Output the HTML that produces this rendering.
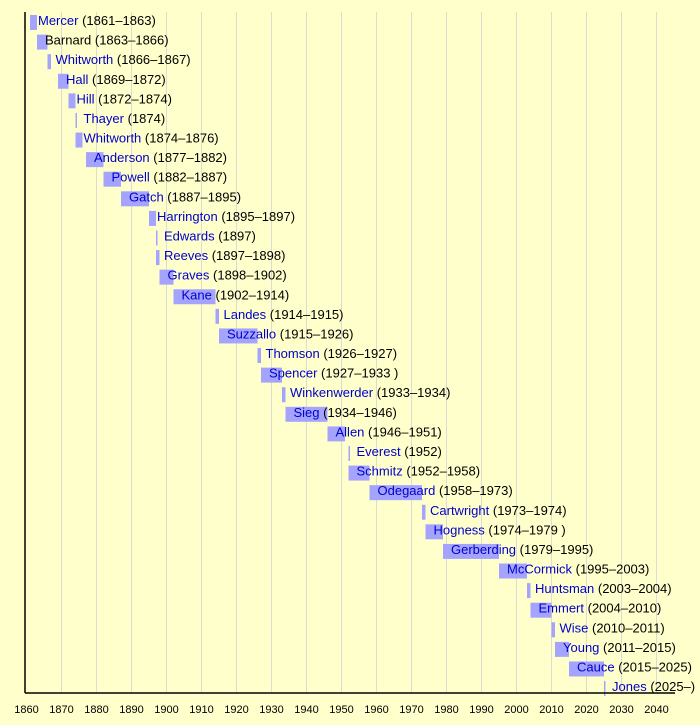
<!DOCTYPE html>
<html><head><meta charset="utf-8"><style>
html,body{margin:0;padding:0;background:#ffffcc;}
svg{display:block;font-family:"Liberation Sans",sans-serif;}
</style></head><body>
<svg id="s" width="700" height="725" xmlns="http://www.w3.org/2000/svg">
<rect width="700" height="725" fill="#ffffcc"/>
<g id="grid" stroke="#dcdcd4" stroke-width="1"></g>
<g id="bars" fill="#a4a4ff"></g>
<g id="txt" font-size="13"></g>
<line x1="25" y1="12" x2="25" y2="693" stroke="#000" stroke-width="1.5"/>
<line x1="25" y1="693" x2="675" y2="693" stroke="#000" stroke-width="1.5"/>
<g id="ticks" font-size="11" fill="#000" text-anchor="middle"></g>
</svg>
<script>
var d=[["Mercer",1861,1863,"(1861–1863)"],["Barnard",1863,1866,"(1863–1866)",1],["Whitworth",1866,1867,"(1866–1867)"],["Hall",1869,1872,"(1869–1872)"],["Hill",1872,1874,"(1872–1874)"],["Thayer",1874,1874,"(1874)"],["Whitworth",1874,1876,"(1874–1876)"],["Anderson",1877,1882,"(1877–1882)"],["Powell",1882,1887,"(1882–1887)"],["Gatch",1887,1895,"(1887–1895)"],["Harrington",1895,1897,"(1895–1897)"],["Edwards",1897,1897,"(1897)"],["Reeves",1897,1898,"(1897–1898)"],["Graves",1898,1902,"(1898–1902)"],["Kane",1902,1914,"(1902–1914)"],["Landes",1914,1915,"(1914–1915)"],["Suzzallo",1915,1926,"(1915–1926)"],["Thomson",1926,1927,"(1926–1927)"],["Spencer",1927,1933,"(1927–1933 )"],["Winkenwerder",1933,1934,"(1933–1934)"],["Sieg",1934,1946,"(1934–1946)"],["Allen",1946,1951,"(1946–1951)"],["Everest",1952,1952,"(1952)"],["Schmitz",1952,1958,"(1952–1958)"],["Odegaard",1958,1973,"(1958–1973)"],["Cartwright",1973,1974,"(1973–1974)"],["Hogness",1974,1979,"(1974–1979 )"],["Gerberding",1979,1995,"(1979–1995)"],["McCormick",1995,2003,"(1995–2003)"],["Huntsman",2003,2004,"(2003–2004)"],["Emmert",2004,2010,"(2004–2010)"],["Wise",2010,2011,"(2010–2011)"],["Young",2011,2015,"(2011–2015)"],["Cauce",2015,2025,"(2015–2025)"],["Jones",2025,2025,"(2025–)"]];
function X(y){return 26.5+(y-1860)*3.5;}
var NS="http://www.w3.org/2000/svg";
function el(p,t,a,tx){var e=document.createElementNS(NS,t);for(var k in a)e.setAttribute(k,a[k]);if(tx!=null)e.textContent=tx;document.getElementById(p).appendChild(e);return e;}
for(var y=1870;y<=2040;y+=10)el("grid","line",{x1:X(y),y1:12,x2:X(y),y2:693});
for(var y=1860;y<=2040;y+=10)el("ticks","text",{x:X(y),y:713},String(y));
d.forEach(function(r,i){var c=20+i*19.59;var x1=X(r[1]),w=Math.max(1.5,X(r[2])-x1);
el("bars","rect",{x:x1,y:c-5,width:w,height:15});
var t=el("txt","text",{x:x1+8,y:c+5});
var a=document.createElementNS(NS,"tspan");a.setAttribute("fill",r[4]?"#000":"#0000cc");a.textContent=r[0];t.appendChild(a);
var b=document.createElementNS(NS,"tspan");b.setAttribute("fill","#000");b.textContent=" "+r[3];t.appendChild(b);});
</script>
</body></html>
